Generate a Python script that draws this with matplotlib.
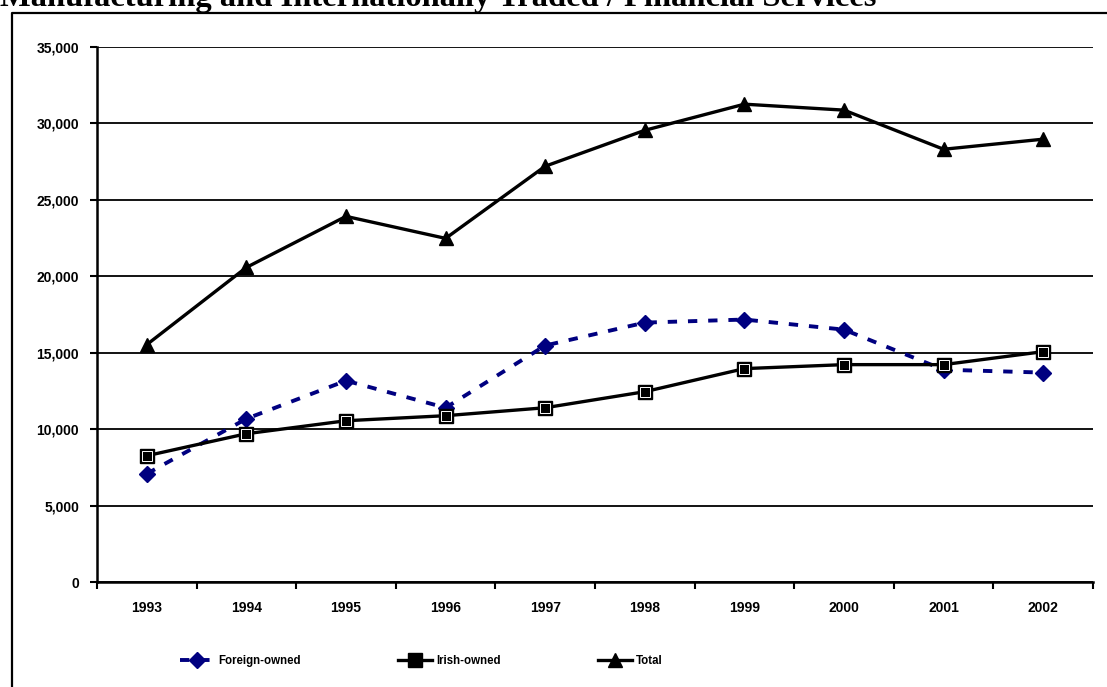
import numpy as np
import matplotlib
matplotlib.use('Agg')
import matplotlib.pyplot as plt
from matplotlib.lines import Line2D
from matplotlib.ticker import FuncFormatter, FixedLocator

# DATI
years = ['1993', '1994', '1995', '1996', '1997', '1998', '1999', '2000', '2001', '2002']
foreign_owned = [7080, 10680, 13170, 11400, 15470, 16970, 17170, 16510, 13890, 13700]
irish_owned = [8260, 9700, 10550, 10880, 11400, 12450, 13960, 14220, 14220, 15070]
total = [15530, 20580, 23920, 22480, 27200, 29550, 31260, 30870, 28310, 28970]

NAVY = '#000080'
plt.rcParams['font.family'] = ['Liberation Sans', 'DejaVu Sans']

fig = plt.figure(figsize=(11.07, 6.87), dpi=100)

# titolo tagliato in alto, come nell'originale
fig.text(0.0, 1 - 6 / 687, 'Manufacturing and Internationally Traded / Financial Services',
         family=['Liberation Serif', 'DejaVu Serif'], fontweight='bold', fontsize=23.4,
         ha='left', va='baseline')

# cornice esterna (solo bordo superiore e sinistro visibili)
fig.add_artist(Line2D([12 / 1107, 12 / 1107, 1.0], [0.0, 1 - 13 / 687, 1 - 13 / 687],
                      color='black', lw=1.6, transform=fig.transFigure))

ax = fig.add_axes([97 / 1107, (687 - 582) / 687, (1093 - 97) / 1107, (582 - 47) / 687])
x = np.arange(len(years))

ax.plot(x, foreign_owned, color=NAVY, lw=2.8, dashes=(2.4, 2.8), marker='D',
        ms=8.5, mfc=NAVY, mec=NAVY, label='Foreign-owned', zorder=3)
ax.plot(x, irish_owned, color='black', lw=2.4, marker='s', ms=10,
        mfc='black', mec='black', label='Irish-owned', zorder=4)
ax.plot(x, irish_owned, ls='none', marker='s', ms=6.5, mfc='none', mec='white',
        mew=0.7, zorder=5)
ax.plot(x, total, color='black', lw=2.4, marker='^', ms=10.5,
        mfc='black', mec='black', label='Total', zorder=4)

ax.set_xlim(-0.5, len(years) - 0.5)
ax.set_ylim(0, 35000)
ax.set_yticks(np.arange(0, 35001, 5000))
ax.yaxis.set_major_formatter(FuncFormatter(lambda v, p: f'{int(v):,}'))
ax.set_xticks(x)
ax.set_xticklabels(years)
ax.xaxis.set_minor_locator(FixedLocator(np.arange(-0.5, len(years), 1.0)))
ax.tick_params(axis='x', which='major', length=0, pad=14)
ax.tick_params(axis='x', which='minor', length=5, width=1.5, direction='out')
ax.tick_params(axis='y', length=5, width=1.5, pad=8)
for lab in ax.get_xticklabels() + ax.get_yticklabels():
    lab.set_fontweight('bold')
    lab.set_fontsize(10)

ax.grid(axis='y', color='black', lw=1.3)
ax.set_axisbelow(True)
for s in ['top', 'right']:
    ax.spines[s].set_visible(False)
for s in ['left', 'bottom']:
    ax.spines[s].set_linewidth(1.8)

h, l = ax.get_legend_handles_labels()
leg = fig.legend(h, l, loc='center left', bbox_to_anchor=(170 / 1107, 1 - 661 / 687),
                 ncol=3, frameon=False, handlelength=2.9, handletextpad=0.35,
                 columnspacing=8.5, prop={'weight': 'bold', 'size': 8.3})

fig.savefig('out.png', dpi=100)
